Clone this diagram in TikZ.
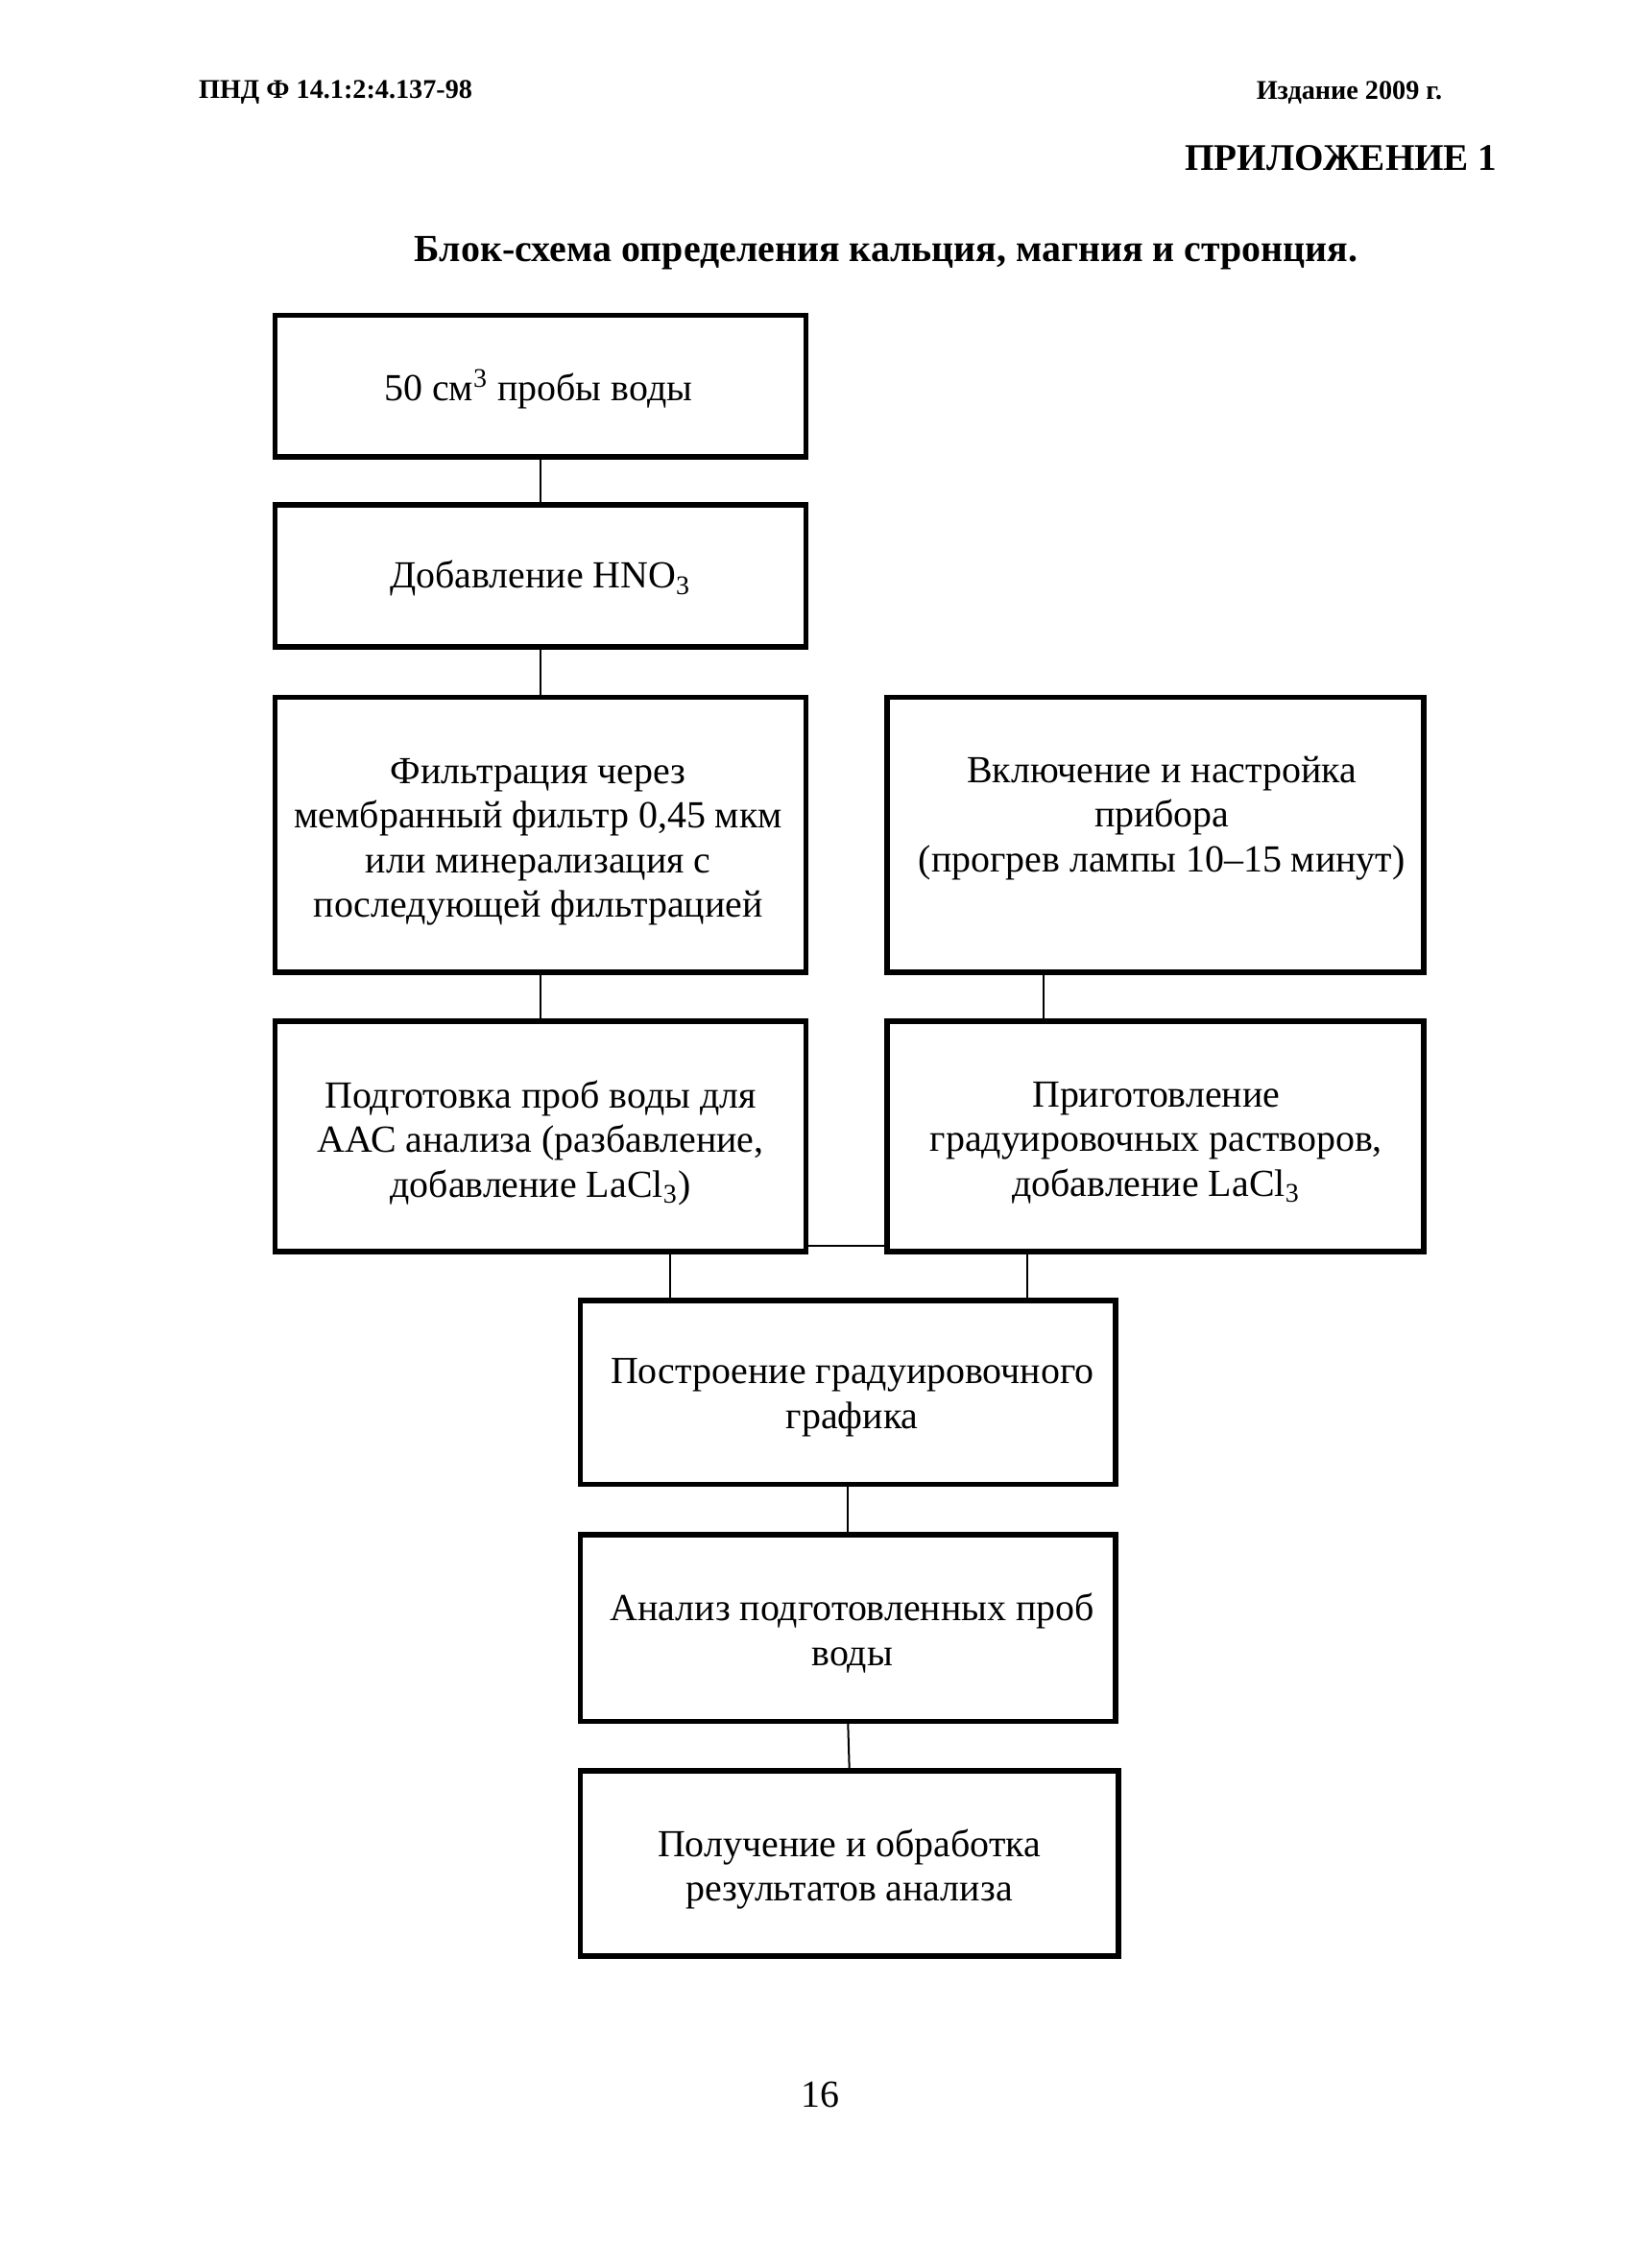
\documentclass[tikz,border=0pt]{standalone}
\usepackage{fontspec}
\setmainfont{Liberation Serif}
\def\pxu{0.1859mm}
\begin{document}
\begin{tikzpicture}[x=0.1859mm,y=-0.1859mm,
  box/.style={draw, line width=2pt, rectangle, inner sep=0pt, outer sep=0pt},
  txt/.style={inner sep=0pt, align=center, font=\fontsize{14}{16.3}\selectfont},
  conn/.style={line width=0.7pt},
  hdr/.style={font=\fontsize{9.9}{12}\selectfont\bfseries, inner sep=0pt}]
\useasboundingbox[fill=white] (0mm,0mm) rectangle (209.91mm,-291.44mm);

\node[hdr, anchor=west] (h1) at (137,64) {ПНД Ф 14.1:2:4.137-98};
\node[hdr, anchor=east] (h2) at (997,64) {Издание 2009 г.};
\node[anchor=east, inner sep=0pt, font=\fontsize{13.75}{16}\selectfont\bfseries] (h3) at (1035,109) {ПРИЛОЖЕНИЕ 1};
\node[inner sep=0pt, font=\fontsize{14}{16}\selectfont\bfseries] (title) at (612.5,175) {Блок-схема определения кальция, магния и стронция.};

\node[box, minimum width=367*\pxu, minimum height=98*\pxu] (b1) at (373.5,267) {};
\node[box, minimum width=367*\pxu, minimum height=98*\pxu] (b2) at (373.5,398) {};
\node[box, minimum width=367*\pxu, minimum height=190*\pxu] (b3) at (373.5,577) {};
\node[box, minimum width=371*\pxu, minimum height=190*\pxu] (b4) at (798.5,577) {};
\node[box, minimum width=367*\pxu, minimum height=159*\pxu] (b5) at (373.5,785.5) {};
\node[box, minimum width=371*\pxu, minimum height=159*\pxu] (b6) at (798.5,785.5) {};
\node[box, minimum width=370*\pxu, minimum height=127*\pxu] (b7) at (586,962.5) {};
\node[box, minimum width=370*\pxu, minimum height=129*\pxu] (b8) at (586,1125.5) {};
\node[box, minimum width=372*\pxu, minimum height=128*\pxu] (b9) at (587,1288) {};

\node[txt] (t1) at (372,269) {50 см\textsuperscript{3} пробы воды};
\node[txt] (t2) at (373.5,400) {Добавление HNO\textsubscript{3}};
\node[txt] (t3) at (372,582) {Фильтрация через\\мембранный фильтр 0,45 мкм\\или минерализация с\\последующей фильтрацией};
\node[txt] (t4) at (803,578) {Включение и настройка\\прибора\\ (прогрев лампы 10--15 минут)\\~};
\node[txt] (t5) at (373.5,790) {Подготовка проб воды для\\ААС анализа (разбавление,\\добавление LaCl\textsubscript{3})};
\node[txt] (t6) at (799,790) {Приготовление\\градуировочных растворов,\\добавление LaCl\textsubscript{3}};
\node[txt] (t7) at (589,966) {Построение градуировочного\\графика};
\node[txt] (t8) at (589,1129) {Анализ подготовленных проб\\воды};
\node[txt] (t9) at (587,1292) {Получение и обработка\\результатов анализа};

\node[inner sep=0pt, font=\fontsize{14}{16}\selectfont] (pg) at (567,1448) {16};

\draw[conn] (b1.south) -- (b2.north);
\draw[conn] (b2.south) -- (b3.north);
\draw[conn] (b3.south) -- (b5.north);
\draw[conn] ([xshift=-77.5*\pxu]b4.south) -- ([xshift=-77.5*\pxu]b6.north);
\draw[conn] ([yshift=4*\pxu]b5.south east) -- ([yshift=4*\pxu]b6.south west);
\draw[conn] ([xshift=-123*\pxu]b7.north) -- ([xshift=-123*\pxu]b7.north |- b5.south);
\draw[conn] ([xshift=124*\pxu]b7.north) -- ([xshift=124*\pxu]b7.north |- b6.south);
\draw[conn] (b7.south) -- (b8.north);
\draw[conn] (b8.south) -- (b9.north);
\end{tikzpicture}
\end{document}
